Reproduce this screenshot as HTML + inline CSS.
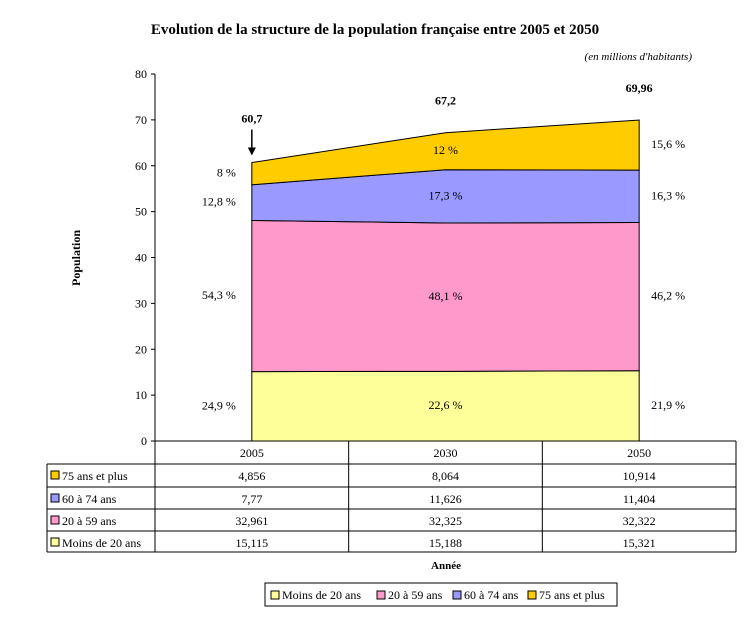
<!DOCTYPE html>
<html><head><meta charset="utf-8"><style>
body{margin:0;background:#fff}
svg text{font-family:"Liberation Serif",serif;font-size:12px;fill:#000}
</style></head><body>
<svg id="c" width="751" height="629" xmlns="http://www.w3.org/2000/svg">
<text x="375" y="34" text-anchor="middle" font-weight="bold" style="font-size:15px">Evolution de la structure de la population française entre 2005 et 2050</text>
<text x="692" y="60" text-anchor="end" font-style="italic" style="font-size:11px">(en millions d'habitants)</text>
<text transform="translate(80,258) rotate(-90)" text-anchor="middle" font-weight="bold">Population</text>
<text x="446" y="569" text-anchor="middle" font-weight="bold" style="font-size:11px">Année</text>
<g id="areas"></g><g id="axis"></g><g id="labels"></g><g id="table"></g><g id="legend"></g>
</svg>
<script>
const years=["2005","2030","2050"];
const seriesNames=["Moins de 20 ans","20 à 59 ans","60 à 74 ans","75 ans et plus"];
const moins20=[15.115,15.188,15.321];
const a20_59=[32.961,32.325,32.322];
const a60_74=[7.77,11.626,11.404];
const a75=[4.856,8.064,10.914];
const totals=["60,7","67,2","69,96"];
const pctMoins20=["24,9 %","22,6 %","21,9 %"];
const pct20_59=["54,3 %","48,1 %","46,2 %"];
const pct60_74=["12,8 %","17,3 %","16,3 %"];
const pct75=["8 %","12 %","15,6 %"];
const tableText=[["4,856","8,064","10,914"],["7,77","11,626","11,404"],["32,961","32,325","32,322"],["15,115","15,188","15,321"]];
const yTicks=[0,10,20,30,40,50,60,70,80];
const colors=["#FFFF99","#FF99CC","#9999FF","#FFCC00"];
const NS="http://www.w3.org/2000/svg";
const x0=155,x1=736,y0=441,yTop=74;
const band=(x1-x0)/years.length;
const X=i=>x0+band*(i+0.5);
const Y=v=>y0-(v/80)*(y0-yTop);
function mk(t,a,p){const e=document.createElementNS(NS,t);for(const k in a)e.setAttribute(k,a[k]);p.appendChild(e);return e;}
const series=[moins20,a20_59,a60_74,a75];
const areas=document.getElementById('areas');
let base=[0,0,0];
series.forEach((s,k)=>{
 const top=s.map((v,i)=>base[i]+v);
 let pts=top.map((v,i)=>X(i)+","+Y(v));
 for(let i=years.length-1;i>=0;i--)pts.push(X(i)+","+Y(base[i]));
 const p=mk('polygon',{points:pts.join(' '),fill:colors[k],stroke:'#000','stroke-width':1},areas);
 
 
 base=top;
});
const axis=document.getElementById('axis');
mk('line',{x1:x0,y1:yTop,x2:x0,y2:y0,stroke:'#000'},axis);
yTicks.forEach(t=>{
 mk('line',{x1:x0-4,y1:Y(t),x2:x0,y2:Y(t),stroke:'#000'},axis);
 const tx=mk('text',{x:x0-8,y:Y(t)+4,'text-anchor':'end'},axis);tx.textContent=t;
 
 
});
const labels=document.getElementById('labels');
const pcts=[pctMoins20,pct20_59,pct60_74,pct75];
base=[0,0,0];
series.forEach((s,k)=>{
 s.forEach((v,i)=>{
  const xx=i==0?X(i)-16:(i==2?X(i)+12:X(i));
  const t=mk('text',{x:xx,y:Y(base[i]+v/2)+3,'text-anchor':i==0?'end':(i==2?'start':'middle')},labels);
  t.textContent=pcts[k][i];
  
  
 });
 base=base.map((b,i)=>b+s[i]);
});
totals.forEach((tt,i)=>{
 const ty=i==0?Y(base[i])-40:Y(base[i])-28;
 const t=mk('text',{x:X(i),y:ty,'text-anchor':'middle','font-weight':'bold'},labels);t.textContent=tt;
 
 
});
mk('line',{x1:X(0),y1:Y(base[0])-33,x2:X(0),y2:Y(base[0])-12,stroke:'#000','stroke-width':1.5},labels);
mk('polygon',{points:`${X(0)-4},${Y(base[0])-15} ${X(0)+4},${Y(base[0])-15} ${X(0)},${Y(base[0])-7}`},labels);
const tb=document.getElementById('table');
const rows=[441,464,487,509,531,552];
mk('line',{x1:x0,y1:rows[0],x2:x1,y2:rows[0],stroke:'#000'},tb);
for(let r=1;r<rows.length;r++)mk('line',{x1:47,y1:rows[r],x2:x1,y2:rows[r],stroke:'#000'},tb);
mk('line',{x1:47,y1:rows[1],x2:47,y2:rows[5],stroke:'#000'},tb);
for(let i=0;i<=years.length;i++)mk('line',{x1:x0+band*i,y1:rows[0],x2:x0+band*i,y2:rows[5],stroke:'#000'},tb);
years.forEach((y,i)=>{const t=mk('text',{x:X(i),y:rows[0]+16,'text-anchor':'middle'},tb);t.textContent=y;
 });
const order=[3,2,1,0];
order.forEach((k,r)=>{
 mk('rect',{x:51,y:rows[r+1]+7,width:8,height:8,fill:colors[k],stroke:'#000'},tb);
 const l=mk('text',{x:62,y:rows[r+1]+16},tb);l.textContent=seriesNames[k];
 
 tableText[r].forEach((v,i)=>{const t=mk('text',{x:X(i),y:rows[r+1]+16,'text-anchor':'middle'},tb);t.textContent=v;
  });
});
const lg=document.getElementById('legend');
mk('rect',{x:265,y:583,width:352,height:23,fill:'#fff',stroke:'#000'},lg);
const lx=[271,377,453,528];
seriesNames.forEach((n,k)=>{
 mk('rect',{x:lx[k],y:591,width:8,height:8,fill:colors[k],stroke:'#000'},lg);
 const t=mk('text',{x:lx[k]+11,y:599},lg);t.textContent=n;
 
});
</script>
</body></html>
